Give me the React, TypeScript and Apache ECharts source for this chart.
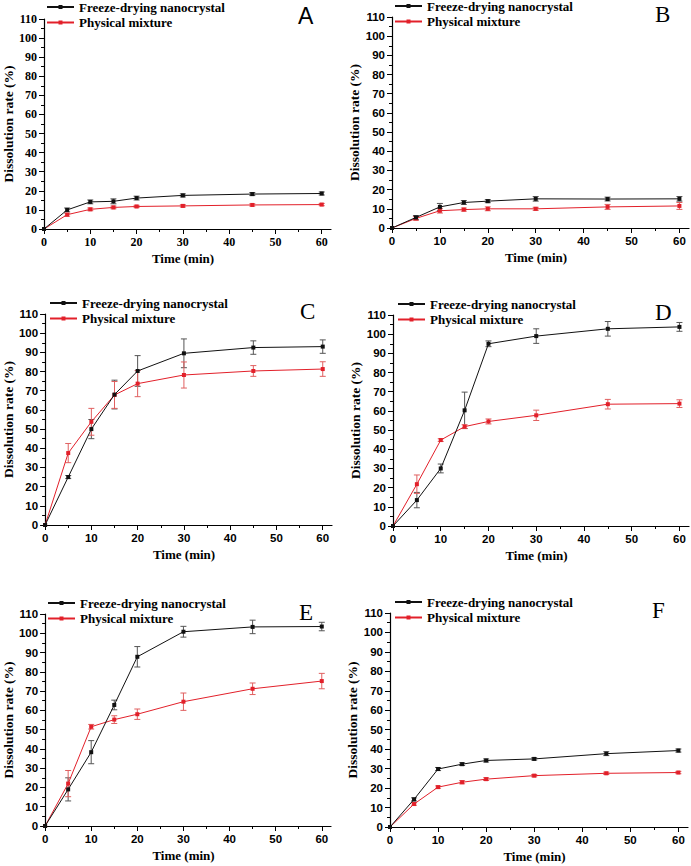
import React, { useEffect, useRef } from "react";
import * as echarts from "echarts";

// ---------- data ----------
const times = [0, 5, 10, 15, 20, 30, 45, 60];
const xTickValues = [0, 10, 20, 30, 40, 50, 60];
const seriesNames = ["Freeze-drying nanocrystal", "Physical mixture"];
const panelLetters = ["A", "B", "C", "D", "E", "F"];
const xTitle = "Time (min)";
const yTitle = "Dissolution rate (%)";

const freezeA = [0, 10, 14.2, 14.5, 16.2, 17.6, 18.3, 18.6];
const freezeErrA = [0, 1, 1, 1.3, 1, 0.8, 0.8, 0.8];
const physA = [0, 7.5, 10.3, 11.3, 11.8, 12.1, 12.6, 12.8];
const physErrA = [0, 0.8, 0.7, 0.7, 0.6, 0.6, 0.6, 0.6];

const freezeB = [0, 5.5, 11, 13.3, 14, 15.2, 15.1, 15.2];
const freezeErrB = [0, 1, 1.8, 1, 0.8, 1.2, 1, 1.2];
const physB = [0, 5, 9, 9.6, 10, 10, 11, 11.5];
const physErrB = [0, 1, 1.2, 0.8, 1, 0.8, 1.3, 1.8];

const freezeC = [0, 25, 50, 68, 80.3, 89.5, 92.5, 93];
const freezeErrC = [0, 0.8, 5, 7.5, 8, 7.5, 3.5, 3.5];
const physC = [0, 37.5, 53.8, 67.8, 73.7, 78.2, 80.3, 81.3];
const physErrC = [0, 5, 7, 7, 6.8, 6.8, 2.8, 3.8];

const freezeD = [0, 13.5, 30, 60.3, 95, 99, 102.8, 103.8];
const freezeErrD = [0, 4, 2.3, 9.5, 1.5, 3.8, 3.8, 2.3];
const physD = [0, 21.8, 44.8, 51.8, 54.5, 57.7, 63.5, 63.8];
const physErrD = [0, 4.8, 0.7, 1, 1.3, 2.7, 2.5, 2];

const freezeE = [0, 19, 38.3, 62.8, 87.8, 100.8, 103.3, 103.5];
const freezeErrE = [0, 6, 6, 2.5, 5.3, 2.8, 3.5, 2.2];
const physE = [0, 22, 51.5, 55.2, 58, 64.5, 71.2, 75.2];
const physErrE = [0, 6.8, 1.2, 2, 2.7, 4.5, 3, 4];

const freezeF = [0, 14.2, 29.8, 32.3, 34.2, 35, 37.7, 39.3];
const freezeErrF = [0, 0.8, 0.8, 0.7, 0.8, 0.6, 1, 0.8];
const physF = [0, 11.8, 20.5, 23, 24.6, 26.4, 27.6, 28];
const physErrF = [0, 0.6, 0.6, 0.8, 0.7, 0.6, 0.6, 0.6];

const panelData = [
  { f: freezeA, fe: freezeErrA, p: physA, pe: physErrA },
  { f: freezeB, fe: freezeErrB, p: physB, pe: physErrB },
  { f: freezeC, fe: freezeErrC, p: physC, pe: physErrC },
  { f: freezeD, fe: freezeErrD, p: physD, pe: physErrD },
  { f: freezeE, fe: freezeErrE, p: physE, pe: physErrE },
  { f: freezeF, fe: freezeErrF, p: physF, pe: physErrF },
];

// ---------- layout ----------
const grids = [
  { left: 43, top: 19, width: 288, height: 210 },
  { left: 392, top: 17, width: 297, height: 211 },
  { left: 45, top: 314, width: 287, height: 211 },
  { left: 393, top: 315, width: 296, height: 211 },
  { left: 44, top: 614, width: 287, height: 212 },
  { left: 390, top: 613, width: 298, height: 214 },
];
const legendPos = [
  { left: 46, top: 0 },
  { left: 394, top: -1 },
  { left: 49, top: 296 },
  { left: 397, top: 297 },
  { left: 47, top: 596 },
  { left: 394, top: 595 },
];
const SERIF = "Liberation Serif";
const SANS = "Liberation Sans";
const tickFont = [SERIF, SANS, SANS, SANS, SANS, SANS];
const letterPos = [
  { x: 298, y: 16, family: SANS },
  { x: 655, y: 14, family: SERIF },
  { x: 300, y: 311, family: SERIF },
  { x: 655, y: 312, family: SERIF },
  { x: 299, y: 612, family: SERIF },
  { x: 652, y: 610, family: SERIF },
];

const BLACK = "#111111";
const RED = "#e2202a";
const BLACK_ERR = "#555555";
const RED_ERR = "#e06060";

function renderErr(params: any, api: any) {
  const x = api.value(0);
  const y = api.value(1);
  const e = api.value(2);
  const top = api.coord([x, y + e]);
  const bot = api.coord([x, y - e]);
  const cap = 3;
  const style = { stroke: api.visual("color"), lineWidth: 1 };
  return {
    type: "group",
    children: [
      { type: "line", shape: { x1: top[0], y1: top[1], x2: bot[0], y2: bot[1] }, style },
      { type: "line", shape: { x1: top[0] - cap, y1: top[1], x2: top[0] + cap, y2: top[1] }, style },
      { type: "line", shape: { x1: bot[0] - cap, y1: bot[1], x2: bot[0] + cap, y2: bot[1] }, style },
    ],
  };
}

function buildOption() {
  const axisLineStyle = { color: "#000", width: 1.2 };
  const xAxis: any[] = [];
  const yAxis: any[] = [];
  const series: any[] = [];
  const legend: any[] = [];
  const graphic: any[] = [];

  panelData.forEach((pd, i) => {
    const tf = tickFont[i];
    const tfs = tf === SERIF ? 12 : 11.5;
    xAxis.push({
      type: "value",
      gridIndex: i,
      min: 0,
      max: 62,
      interval: 10,
      name: xTitle,
      nameLocation: "middle",
      nameGap: 23,
      nameTextStyle: { fontFamily: SERIF, fontWeight: "bold", fontSize: 13, color: "#000", padding: [0, 9, 0, 0] },
      axisLine: { lineStyle: axisLineStyle },
      axisTick: { show: true, inside: false, length: 5, lineStyle: { color: "#000", width: 1 }, customValues: xTickValues },
      minorTick: { show: true, splitNumber: 2, length: 3, lineStyle: { color: "#000", width: 1 } },
      axisLabel: { customValues: xTickValues, fontFamily: tf, fontWeight: "bold", fontSize: tfs, color: "#000", margin: 7 },
      splitLine: { show: false },
    });
    yAxis.push({
      type: "value",
      gridIndex: i,
      min: 0,
      max: 110,
      interval: 10,
      name: yTitle,
      nameLocation: "middle",
      nameGap: 29,
      nameTextStyle: { fontFamily: SERIF, fontWeight: "bold", fontSize: 13.5, color: "#000" },
      axisLine: { show: true, lineStyle: axisLineStyle },
      axisTick: { show: true, inside: false, length: 5, lineStyle: { color: "#000", width: 1 } },
      minorTick: { show: true, splitNumber: 2, length: 3, lineStyle: { color: "#000", width: 1 } },
      axisLabel: { fontFamily: tf, fontWeight: "bold", fontSize: tfs, color: "#000", margin: 7 },
      splitLine: { show: false },
    });

    const makeErr = (vals: number[], errs: number[]) =>
      times.map((t, k) => [t, vals[k], errs[k]]).filter((d) => d[0] !== 0);

    series.push({
      type: "custom",
      xAxisIndex: i,
      yAxisIndex: i,
      renderItem: renderErr,
      itemStyle: { color: BLACK_ERR },
      data: makeErr(pd.f, pd.fe),
      z: 1,
      silent: true,
    });
    series.push({
      type: "custom",
      xAxisIndex: i,
      yAxisIndex: i,
      renderItem: renderErr,
      itemStyle: { color: RED_ERR },
      data: makeErr(pd.p, pd.pe),
      z: 1,
      silent: true,
    });
    series.push({
      name: seriesNames[0],
      type: "line",
      xAxisIndex: i,
      yAxisIndex: i,
      data: times.map((t, k) => [t, pd.f[k]]),
      symbol: "rect",
      symbolSize: 4,
      showSymbol: true,
      color: BLACK,
      lineStyle: { color: BLACK, width: 1 },
      itemStyle: { color: BLACK },
      z: 3,
    });
    series.push({
      name: seriesNames[1],
      type: "line",
      xAxisIndex: i,
      yAxisIndex: i,
      data: times.map((t, k) => [t, pd.p[k]]),
      symbol: "rect",
      symbolSize: 4,
      showSymbol: true,
      color: RED,
      lineStyle: { color: RED, width: 1 },
      itemStyle: { color: RED },
      z: 2,
    });

    legend.push({
      data: seriesNames,
      orient: "vertical",
      left: legendPos[i].left,
      top: legendPos[i].top,
      padding: 0,
      itemWidth: 27,
      itemHeight: 5,
      itemGap: 1.5,
      selectedMode: false,
      textStyle: { fontFamily: SERIF, fontWeight: "bold", fontSize: 13, color: "#000", lineHeight: 14 },
    });

    graphic.push({
      type: "text",
      x: letterPos[i].x,
      y: letterPos[i].y,
      style: {
        text: panelLetters[i],
        fontFamily: letterPos[i].family,
        fontSize: 23,
        fontWeight: "normal",
        fill: "#000",
        align: "left",
        verticalAlign: "middle",
      },
    });
  });

  return {
    animation: false,
    backgroundColor: "#fff",
    grid: grids.map((g) => ({ ...g, containLabel: false })),
    xAxis,
    yAxis,
    legend,
    series,
    graphic,
  };
}

export default function App() {
  const ref = useRef<HTMLDivElement>(null);
  useEffect(() => {
    if (!ref.current) return;
    const chart = echarts.init(ref.current, undefined, { renderer: "svg" });
    chart.setOption(buildOption() as any);
    return () => chart.dispose();
  }, []);
  return (
    <div
      ref={ref}
      style={{ position: "absolute", left: 0, top: 0, width: 691, height: 866, background: "#fff" }}
    />
  );
}
